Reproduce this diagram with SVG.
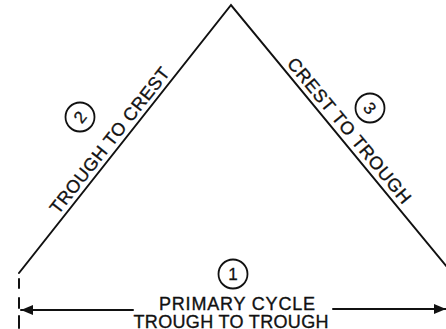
<svg xmlns="http://www.w3.org/2000/svg" width="446" height="329" viewBox="0 0 446 329">
<style>
.ln{fill:none;stroke:#111;stroke-width:2;stroke-linecap:round}
.t{font-family:"Liberation Sans",Arial,sans-serif;font-size:18px;fill:#111;stroke:#111;stroke-width:0.35;text-anchor:middle}
.d{font-family:"Liberation Sans",Arial,sans-serif;font-size:17px;fill:#111;stroke:#111;stroke-width:0.3;text-anchor:middle}
.c{fill:none;stroke:#111;stroke-width:1.8}
</style>
<defs>
<marker id="ah" viewBox="0 0 12 10" refX="12" refY="5" markerWidth="12" markerHeight="10" markerUnits="userSpaceOnUse" orient="auto">
<path d="M0,0 L12,5 L0,10 z" fill="#111"/>
</marker>
</defs>
<rect width="446" height="329" fill="#fff"/>
<g id="connectors">
<polyline class="ln" points="19,273 231,5 447,267"/>
<path class="ln" d="M19,279 V288 M19,298 V308 M19,316 V328" stroke-linecap="butt"/>
<line class="ln" x1="133" y1="310" x2="21" y2="310" marker-end="url(#ah)" stroke-linecap="butt"/>
<line class="ln" x1="333" y1="309" x2="446" y2="309" marker-end="url(#ah)" stroke-linecap="butt"/>
</g>
<g id="node-primary">
<circle class="c" cx="233" cy="274" r="14.5"/>
<text class="d" x="233" y="280">1</text>
<text class="t" x="237" y="310" textLength="156" lengthAdjust="spacing">PRIMARY CYCLE</text>
<text class="t" x="231" y="328" textLength="195" lengthAdjust="spacing">TROUGH TO TROUGH</text>
</g>
<g id="node-trough-to-crest">
<circle class="c" cx="80" cy="117" r="14.5"/>
<text class="d" transform="translate(80,117) rotate(-51.65)" y="6">2</text>
<text class="t" transform="translate(114.4,144.4) rotate(-51.65)" textLength="181" lengthAdjust="spacing">TROUGH TO CREST</text>
</g>
<g id="node-crest-to-trough">
<circle class="c" cx="370" cy="108" r="14.5"/>
<text class="d" transform="translate(370,108) rotate(50.4)" y="6">3</text>
<text class="t" transform="translate(344.5,134.4) rotate(50.4)" textLength="183" lengthAdjust="spacing">CREST TO TROUGH</text>
</g>
</svg>
